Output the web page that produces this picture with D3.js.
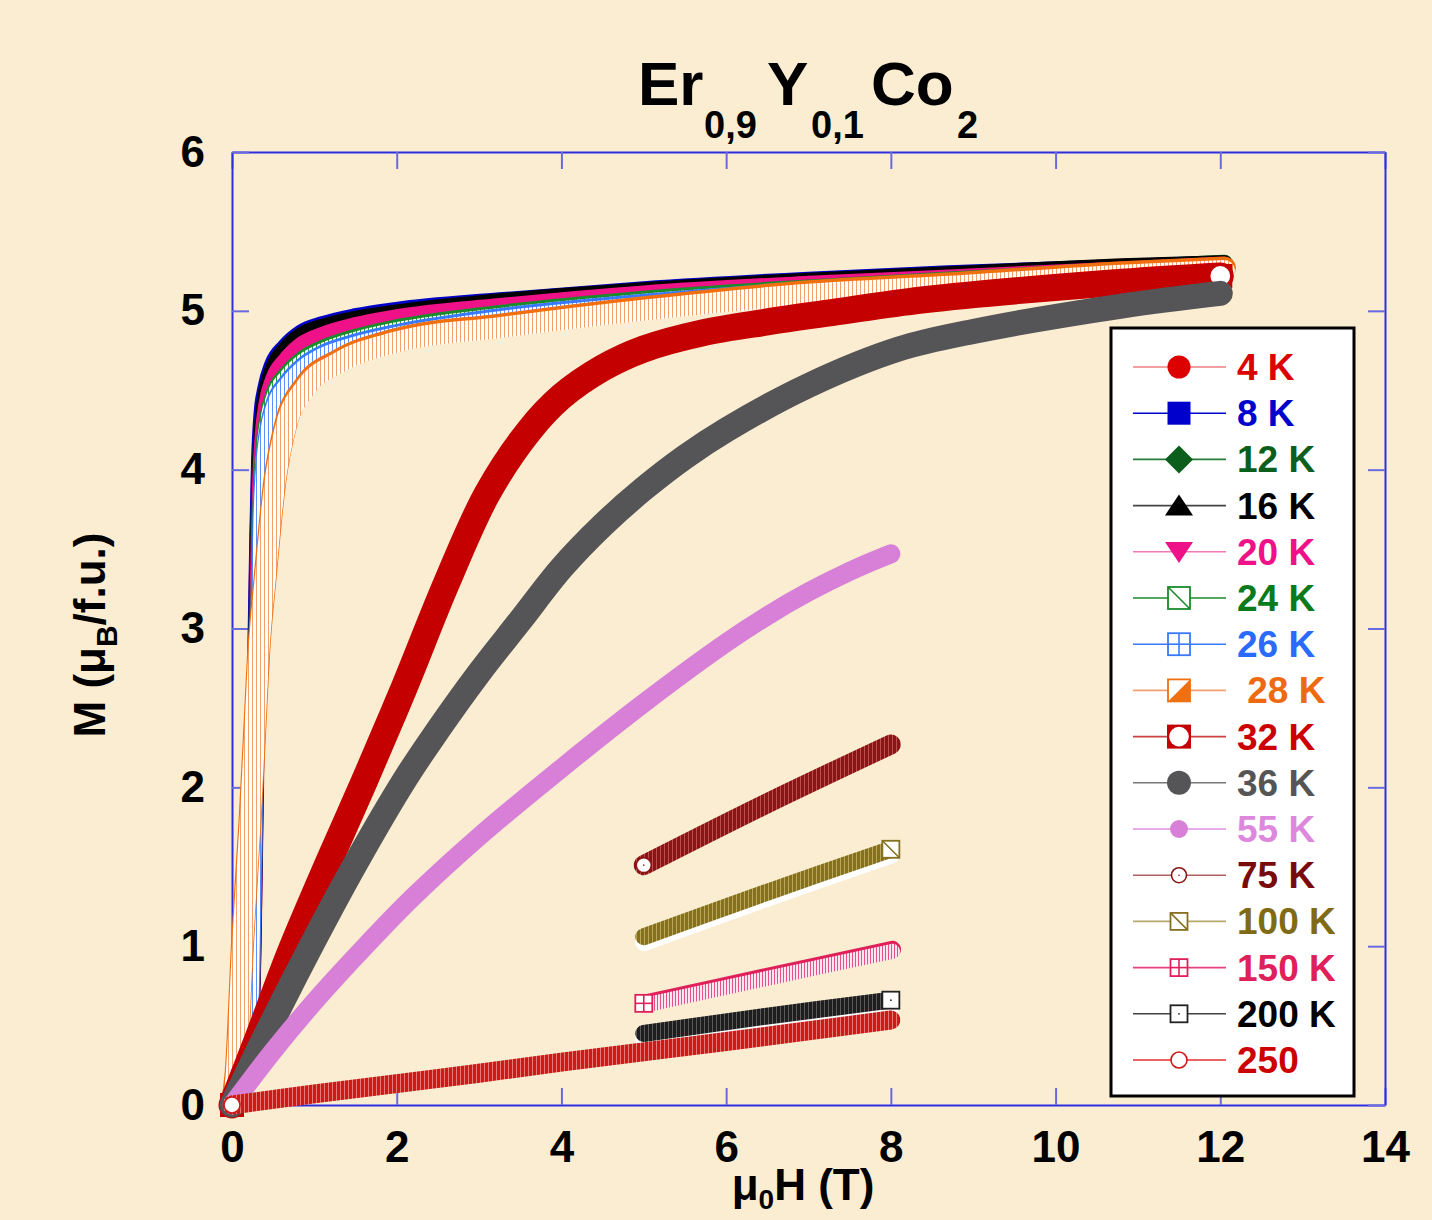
<!DOCTYPE html>
<html>
<head>
<meta charset="utf-8">
<script src="https://cdn.jsdelivr.net/npm/d3@7"></script>
<style>
  body { margin: 0; background: #faedd2; }
  svg { display: block; font-family: Arial, "Liberation Sans", sans-serif; font-weight: bold; }
</style>
</head>
<body>
<svg id="chart" width="1432" height="1220"></svg>
<script>

// Er0.9Y0.1Co2 magnetisation curves
const labels = ["4 K", "8 K", "12 K", "16 K", "20 K", "24 K", "26 K", " 28 K",
                "32 K", "36 K", "55 K", "75 K", "100 K", "150 K", "200 K", "250"];
const xTicks = [0, 2, 4, 6, 8, 10, 12, 14];
const yTicks = [0, 1, 2, 3, 4, 5, 6];

// low temperature curves share the same field steps
const hLow = [0, 0.1, 0.2, 0.25, 0.28, 0.3, 0.32, 0.34, 0.37, 0.42, 0.5, 0.65, 0.85, 1.1, 1.5, 2, 3.25, 5, 7, 8.7, 10.8, 12.05];
const m4K  = [0, 0.05, 0.3, 1, 2, 2.9, 3.5, 3.95, 4.25, 4.45, 4.6, 4.72, 4.82, 4.88, 4.94, 4.98, 5.05, 5.12, 5.18, 5.22, 5.27, 5.29];
const m8K  = [0, 0.05, 0.32, 1.05, 2.1, 3, 3.6, 4.05, 4.35, 4.52, 4.66, 4.77, 4.86, 4.91, 4.96, 5, 5.06, 5.13, 5.19, 5.23, 5.27, 5.29];
const m12K = [0, 0.05, 0.3, 1, 2, 2.9, 3.5, 3.95, 4.25, 4.44, 4.58, 4.7, 4.8, 4.86, 4.92, 4.97, 5.04, 5.12, 5.18, 5.22, 5.27, 5.3];
const m16K = [0, 0.05, 0.3, 1.05, 2.05, 2.95, 3.55, 4, 4.3, 4.5, 4.64, 4.76, 4.85, 4.9, 4.95, 4.99, 5.06, 5.13, 5.19, 5.23, 5.28, 5.3];
const m20K = [0, 0.04, 0.28, 0.95, 1.95, 2.85, 3.45, 3.9, 4.2, 4.42, 4.57, 4.69, 4.79, 4.85, 4.91, 4.96, 5.03, 5.11, 5.17, 5.21, 5.26, 5.29];
const m24K = [0, 0.04, 0.25, 0.9, 1.85, 2.75, 3.35, 3.8, 4.1, 4.32, 4.48, 4.6, 4.7, 4.77, 4.84, 4.9, 4.99, 5.08, 5.15, 5.2, 5.26, 5.29];
const m26K = [0, 0.03, 0.22, 0.8, 1.7, 2.6, 3.2, 3.7, 4.02, 4.25, 4.42, 4.55, 4.66, 4.74, 4.81, 4.87, 4.97, 5.06, 5.14, 5.19, 5.25, 5.28];

const h28K = [0, 0.05, 0.13, 0.22, 0.27, 0.33, 0.4, 0.52, 0.65, 0.89, 1.3, 2, 3.25, 5, 7, 8.72, 10.8, 12.05];
const m28K = [0, 0.2, 1.04, 1.8, 2.3, 2.9, 3.31, 3.93, 4.28, 4.53, 4.69, 4.82, 4.91, 5.02, 5.12, 5.17, 5.24, 5.27];

const h32K = [0, 0.3, 0.7, 1.2, 1.6, 2.1, 2.6, 3.1, 3.6, 4, 4.5, 5, 5.7, 6.5, 7.3, 8.4, 10.8, 12];
const m32K = [0, 0.4, 0.95, 1.56, 2.03, 2.64, 3.28, 3.85, 4.24, 4.46, 4.64, 4.76, 4.86, 4.93, 4.99, 5.07, 5.18, 5.22];

const h36K = [0, 0.4, 1, 1.5, 2.1, 2.5, 3, 3.5, 4, 4.5, 5, 5.5, 6, 7, 8.1, 9, 10.8, 12];
const m36K = [0, 0.43, 1.04, 1.52, 2.05, 2.36, 2.72, 3.05, 3.38, 3.65, 3.88, 4.08, 4.25, 4.53, 4.76, 4.87, 5.03, 5.11];

const h55K = [0, 0.5, 1, 1.6, 2.2, 3, 4, 5, 6, 6.5, 7, 7.5, 8];
const m55K = [0, 0.34, 0.65, 0.99, 1.31, 1.69, 2.12, 2.53, 2.91, 3.08, 3.23, 3.36, 3.47];

const h75K  = [5, 6.5, 8];
const m75K  = [1.51, 1.9, 2.27];
const h100K = [5, 6.5, 8];
const m100K = [1.06, 1.34, 1.61];
const h150K = [5, 6.5, 8.02];
const m150K = [0.64, 0.81, 0.98];
const h200K = [5, 6.5, 8];
const m200K = [0.45, 0.56, 0.66];
const h250  = [0, 1, 2, 3, 4, 6, 8];
const m250  = [0, 0.07, 0.135, 0.2, 0.27, 0.4, 0.535];

const fields  = [hLow, hLow, hLow, hLow, hLow, hLow, hLow, h28K, h32K, h36K, h55K, h75K, h100K, h150K, h200K, h250];
const moments = [m4K, m8K, m12K, m16K, m20K, m24K, m26K, m28K, m32K, m36K, m55K, m75K, m100K, m150K, m200K, m250];

// look of each curve (dense markers drawn as a thick band)
const styles = [
  { text: "#dd0000", line: "#ee8080", mk: "circle",   ms: 23, col: "#dd0000", bw: 18, band: "#dd0000" },
  { text: "#0000cc", line: "#0000cc", mk: "square",   ms: 23, col: "#0000cc", bw: 18, band: "#0000cc" },
  { text: "#0b5e1c", line: "#2a7a3a", mk: "diamond",  ms: 28, col: "#0b5e1c", bw: 17, band: "#0b5e1c" },
  { text: "#000000", line: "#444444", mk: "triUp",    ms: 28, col: "#000000", bw: 16, band: "#000000" },
  { text: "#ee1188", line: "#f07ab8", mk: "triDown",  ms: 28, col: "#ee1188", bw: 16, band: "#ee1188" },
  { text: "#0a7a1a", line: "#1a8a2a", mk: "sqDiag",   ms: 22, col: "#1a8a2a", bw: 15, band: "url(#st24)", hollow: 2 },
  { text: "#2a6aff", line: "#3a78ff", mk: "sqGrid",   ms: 22, col: "#3a78ff", bw: 15, band: "url(#st26)", hollow: 2 },
  { text: "#ee6a10", line: "#f5a070", mk: "sqHalf",   ms: 22, col: "#f07010", bw: 23, band: "url(#st28)", hollow: 2.5 },
  { text: "#cc0000", line: "#d04040", mk: "sqCircle", ms: 24, col: "#c40000", bw: 27, band: "#c40000", ends: ["first", "last"] },
  { text: "#555555", line: "#777777", mk: "circle",   ms: 24, col: "#555558", bw: 25, band: "#555558" },
  { text: "#dd88dd", line: "#e090e0", mk: "circle",   ms: 18, col: "#d880d8", bw: 19, band: "#d880d8" },
  { text: "#7a0a0a", line: "#b06060", mk: "circDot",  ms: 17, col: "#8b1414", bw: 20, band: "url(#st75)", ends: ["first"] },
  { text: "#806a14", line: "#b8a870", mk: "sqDiag",   ms: 17, col: "#857020", bw: 17, band: "url(#st100)", under: 6, ends: ["last"] },
  { text: "#e0205a", line: "#e84080", mk: "sqGrid",   ms: 17, col: "#e0205a", bw: 17, band: "url(#st150)", hollow: 2, ends: ["first"] },
  { text: "#000000", line: "#444444", mk: "sqDot",    ms: 17, col: "#222222", bw: 17, band: "url(#st200)", under: 6, ends: ["last"] },
  { text: "#cc0000", line: "#e03030", mk: "circOpen", ms: 18, col: "#cc1a1a", bw: 19, band: "url(#st250)", ends: ["first"] }
];

const svg = d3.select("#chart");
const x = d3.scaleLinear().domain([0, 14]).range([232, 1385]);
const y = d3.scaleLinear().domain([0, 6]).range([1105, 152]);

// stripe patterns that stand in for the stacked hollow markers
const defs = svg.append("defs");
const stripes = [
  ["st24", "#ffffff", "#2a9a3a", 4],
  ["st26", "#ffffff", "#5a90ff", 4],
  ["st28", "#ffffff", "#f4a06a", 4],
  ["st75", "#8b1414", "#b85050", 4],
  ["st100", "#85701e", "#b8a65a", 4],
  ["st150", "#fde6ee", "#e8508a", 3],
  ["st200", "#1e1e1e", "#5a5a5a", 4],
  ["st250", "#cc1a1a", "#e87a7a", 4]
];
stripes.forEach(([id, bg, fg, w]) => {
  const p = defs.append("pattern").attr("id", id)
    .attr("patternUnits", "userSpaceOnUse").attr("width", w).attr("height", 10);
  p.append("rect").attr("width", w).attr("height", 10).attr("fill", bg);
  p.append("rect").attr("width", 1).attr("height", 10).attr("fill", fg);
});

// axes frame
const axisCol = "#2f2fe0";
const tickCol = "#6a6ae0";

function styleAxis(g) {
  g.select(".domain").attr("stroke", axisCol).attr("stroke-width", 2);
  g.selectAll(".tick line").attr("stroke", tickCol).attr("stroke-width", 2);
  g.selectAll(".tick text").attr("fill", "#000").attr("font-size", 44)
    .attr("font-weight", "bold").attr("font-family", "Arial, 'Liberation Sans', sans-serif");
}

svg.append("g").attr("transform", "translate(0,1105)")
  .call(d3.axisBottom(x).tickValues(xTicks).tickSize(-17).tickSizeOuter(0).tickPadding(26).tickFormat(d3.format("d")))
  .call(styleAxis);
svg.append("g").attr("transform", "translate(0,152)")
  .call(d3.axisTop(x).tickValues(xTicks).tickSize(-17).tickSizeOuter(0).tickFormat(""))
  .call(styleAxis);
svg.append("g").attr("transform", "translate(232,0)")
  .call(d3.axisLeft(y).tickValues(yTicks).tickSize(-17).tickSizeOuter(0).tickPadding(27).tickFormat(d3.format("d")))
  .call(styleAxis);
svg.append("g").attr("transform", "translate(1385,0)")
  .call(d3.axisRight(y).tickValues(yTicks).tickSize(-17).tickSizeOuter(0).tickFormat(""))
  .call(styleAxis);

// marker glyphs
function marker(g, kind, s, col) {
  const h = s / 2;
  if (kind === "circle") {
    g.append("circle").attr("r", h).attr("fill", col);
  } else if (kind === "square") {
    g.append("rect").attr("x", -h).attr("y", -h).attr("width", s).attr("height", s).attr("fill", col);
  } else if (kind === "diamond") {
    g.append("path").attr("d", `M0,${-h}L${h},0L0,${h}L${-h},0Z`).attr("fill", col);
  } else if (kind === "triUp") {
    g.append("path").attr("d", `M0,${-h * 0.8}L${h},${h * 0.7}L${-h},${h * 0.7}Z`).attr("fill", col);
  } else if (kind === "triDown") {
    g.append("path").attr("d", `M0,${h * 0.8}L${h},${-h * 0.7}L${-h},${-h * 0.7}Z`).attr("fill", col);
  } else if (kind === "sqCircle") {
    g.append("rect").attr("x", -h).attr("y", -h).attr("width", s).attr("height", s).attr("fill", col);
    g.append("circle").attr("r", h * 0.82).attr("fill", "#fff");
  } else if (kind === "circDot" || kind === "circOpen") {
    g.append("circle").attr("r", h - 1).attr("fill", "#fff").attr("stroke", col).attr("stroke-width", 1.6);
    if (kind === "circDot") g.append("circle").attr("r", 0.8).attr("fill", col);
  } else {
    g.append("rect").attr("x", -h).attr("y", -h).attr("width", s).attr("height", s)
      .attr("fill", "#fff").attr("stroke", col).attr("stroke-width", 1.8);
    if (kind === "sqDiag") g.append("line").attr("x1", -h).attr("y1", -h).attr("x2", h).attr("y2", h).attr("stroke", col).attr("stroke-width", 1.6);
    if (kind === "sqGrid") {
      g.append("line").attr("x1", 0).attr("y1", -h).attr("x2", 0).attr("y2", h).attr("stroke", col).attr("stroke-width", 1.6);
      g.append("line").attr("x1", -h).attr("y1", 0).attr("x2", h).attr("y2", 0).attr("stroke", col).attr("stroke-width", 1.6);
    }
    if (kind === "sqHalf") g.append("path").attr("d", `M${h},${-h}L${h},${h}L${-h},${h}Z`).attr("fill", col);
    if (kind === "sqDot") g.append("circle").attr("r", 0.9).attr("fill", col);
  }
}

// curves
const plot = svg.append("g");
labels.forEach((lab, i) => {
  const st = styles[i];
  const pts = fields[i].map((h, k) => ({ h: h, m: moments[i][k] }));
  // the steep low-T curves keep monotone, the rest get a smooth spline
  const curve = i < 8 ? d3.curveMonotoneX : d3.curveCatmullRom.alpha(0.5);
  const line = dy => d3.line().x(d => x(d.h)).y(d => y(d.m) + dy).curve(curve);
  const band = (dy, stroke, w) => plot.append("path").attr("d", line(dy)(pts)).attr("fill", "none")
    .attr("stroke", stroke).attr("stroke-width", w)
    .attr("stroke-linecap", "round").attr("stroke-linejoin", "round");

  if (st.under) band(st.under, "#ffffff", st.bw);
  if (st.hollow) {
    // coloured outline with a white, striped inside pushed down a little
    band(0, st.col, st.bw);
    band(st.hollow, st.band, st.bw - 2);
  } else {
    band(0, st.band, st.bw);
  }
  (st.ends || []).forEach(e => {
    const d = e === "first" ? pts[0] : pts[pts.length - 1];
    const g = plot.append("g").attr("transform", `translate(${x(d.h)},${y(d.m)})`);
    marker(g, st.mk, st.ms, st.col);
  });
});

// legend
const leg = svg.append("g");
leg.append("rect").attr("x", 1111).attr("y", 328).attr("width", 243).attr("height", 768)
  .attr("fill", "#ffffff").attr("stroke", "#000").attr("stroke-width", 3);
labels.forEach((lab, i) => {
  const st = styles[i];
  const cy = 367 + i * 46.2;
  leg.append("line").attr("x1", 1133).attr("x2", 1226).attr("y1", cy).attr("y2", cy)
    .attr("stroke", st.line).attr("stroke-width", 1.6);
  const g = leg.append("g").attr("transform", `translate(1179,${cy})`);
  marker(g, st.mk, st.ms, st.col);
  leg.append("text").attr("x", 1237).attr("y", cy + 13).attr("font-size", 37)
    .attr("fill", st.text).style("white-space", "pre").text(lab);
});

// title
const title = svg.append("text").attr("y", 105).attr("fill", "#000");
title.append("tspan").attr("x", 638).attr("font-size", 62).text("Er");
title.append("tspan").attr("x", 704).attr("y", 138).attr("font-size", 38).text("0,9");
title.append("tspan").attr("x", 767).attr("y", 105).attr("font-size", 62).text("Y");
title.append("tspan").attr("x", 811).attr("y", 138).attr("font-size", 38).text("0,1");
title.append("tspan").attr("x", 871).attr("y", 105).attr("font-size", 62).text("Co");
title.append("tspan").attr("x", 957).attr("y", 138).attr("font-size", 38).text("2");

// axis titles
const xt = svg.append("text").attr("x", 803).attr("y", 1200).attr("text-anchor", "middle")
  .attr("font-size", 44).attr("fill", "#000");
xt.append("tspan").text("\u03bc");
xt.append("tspan").attr("font-size", 28).attr("dy", 9).text("0");
xt.append("tspan").attr("dy", -9).text("H (T)");

const yt = svg.append("text").attr("transform", "translate(105,635) rotate(-90)")
  .attr("text-anchor", "middle").attr("font-size", 44).attr("fill", "#000");
yt.append("tspan").text("M (\u03bc");
yt.append("tspan").attr("font-size", 30).attr("dy", 12).text("B");
yt.append("tspan").attr("dy", -12).text("/f.u.)");

</script>
</body>
</html>
